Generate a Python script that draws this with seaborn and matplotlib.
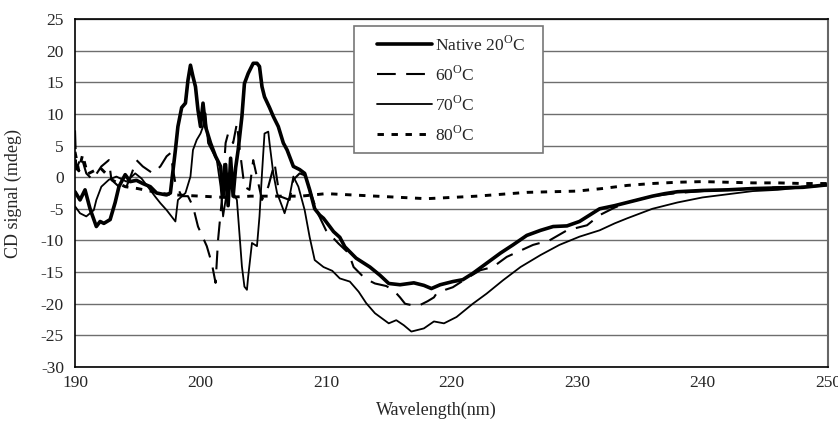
import numpy as np
import pandas as pd
import matplotlib
matplotlib.use("Agg")
import matplotlib.pyplot as plt
import matplotlib.patches as mpatches
import seaborn as sns

# Native 20 C (thick solid)
wl_native = [190, 190.4, 190.8, 191.2, 191.7, 192.0, 192.3, 192.8, 193.2, 193.5, 194.0, 194.4, 194.9,
             195.4, 196.0, 196.5, 197.0, 197.3, 197.6, 198.0, 198.2, 198.5, 198.8, 199.0, 199.2, 199.4,
             199.6, 199.8, 200.0, 200.2, 200.4, 200.8, 201.2, 201.6, 201.8, 202.0, 202.2, 202.4, 202.6,
             202.8, 203.0, 203.3, 203.5, 203.8, 204.2, 204.5, 204.7, 204.9, 205.1, 205.5, 205.8, 206.2,
             206.6, 206.9, 207.4, 207.9, 208.3, 208.7, 209.1, 209.5, 209.8, 210.3, 210.6, 211.1, 211.5,
             212.4, 213.5, 214.3, 215.0, 215.9, 217.0, 217.8, 218.4, 219.1, 220.1, 220.9, 221.7, 222.8,
             223.9, 224.9, 226.0, 227.1, 228.1, 229.2, 230.2, 231.0, 231.8, 233, 234, 235, 236, 237, 238,
             240, 242, 244, 246, 248, 250]
cd_native = [-2.3, -3.6, -2.0, -5.0, -7.8, -7.0, -7.3, -6.7, -4.0, -1.5, 0.4, -0.7, -0.5,
             -1.0, -1.5, -2.5, -2.7, -2.8, -2.5, 4.3, 8.0, 11.0, 11.7, 15.3, 17.7, 15.9,
             14.3, 10.6, 8.0, 11.7, 8.0, 5.4, 3.3, 1.7, -3.0, 2.0, -4.5, 3.0, -3.0,
             1.5, 4.3, 9.6, 14.8, 16.4, 18.0, 18.0, 17.5, 14.3, 12.7, 11.0, 9.6, 8.0,
             5.4, 4.3, 1.7, 1.2, 0.6, -2.0, -5.0, -6.0, -6.5, -7.8, -8.6, -9.5, -11.0,
             -12.8, -14.2, -15.5, -16.8, -17.0, -16.7, -17.1, -17.6, -17.0, -16.5, -16.2, -15.2, -13.6,
             -12.0, -10.7, -9.2, -8.4, -7.8, -7.7, -7.0, -6.0, -5.0, -4.5, -4.0, -3.5, -3.0, -2.6, -2.3,
             -2.1, -2.0, -1.8, -1.7, -1.6, -1.2]

# 60 C (dashed)
wl_60 = [190, 190.1, 190.5, 190.9, 191.4, 192.1, 192.7, 192.9, 193.5, 194.0, 194.5, 194.9, 195.4,
         196.2, 196.8, 197.3, 197.6, 198.0, 198.5, 199.0, 199.4, 199.8, 200.5, 200.9, 201.2, 201.4,
         201.7, 202.0, 202.2, 202.6, 202.9, 203.1, 203.5, 203.9, 204.2, 204.9, 205.4, 205.9, 206.3,
         207.1, 207.4, 207.9, 208.3, 208.7, 209.3, 210.0, 211.0, 211.8, 212.2, 213.1, 213.9, 214.8,
         215.4, 215.9, 216.3, 217.0, 217.5, 218.1, 218.6, 218.8, 219.5, 220.1, 221.2, 222.3, 223.3,
         224.4, 225.5, 226.5, 227.8, 229.2, 230.8, 231.8, 233, 234, 236, 238, 240, 242, 244, 246, 248, 250]
cd_60 = [7.4, 1.2, 3.3, 0.6, -0.4, 1.7, 2.7, -0.4, -1.5, -2.0, 0.5, 2.7, 1.7,
         0.6, 1.7, 3.3, 3.8, -1.0, -3.0, -3.0, -4.6, -7.8, -10.9, -13.6, -16.7, -9.9,
         -3.6, 5.4, 6.9, 5.4, 8.5, 4.8, -1.5, -2.0, 2.7, -3.6, -1.5, 2.2, -3.0,
         -3.6, -0.4, 0.6, 0.3, -2.0, -5.5, -8.4, -10.5, -12.0, -14.2, -16.0, -16.8, -17.2,
         -17.9, -19.0, -20.0, -20.3, -20.2, -19.6, -19.0, -18.4, -17.8, -17.4, -16.0, -14.7, -14.2,
         -12.6, -11.6, -10.7, -10.0, -8.4, -7.6, -6.0, -4.8, -4.0, -3.0, -2.5, -2.2, -2.0, -1.8, -1.6, -1.5, -1.3]

# 70 C (thin solid)
wl_70 = [190, 190.4, 190.9, 191.5, 191.7, 192.1, 192.7, 193.3, 194.1, 194.8, 195.3, 195.8, 196.4,
         196.8, 197.3, 198.0, 198.2, 198.8, 199.2, 199.4, 199.7, 200.0, 200.2, 200.4, 200.6, 201.3,
         201.6, 201.8, 202.0, 202.2, 202.5, 202.9, 203.1, 203.3, 203.5, 203.7, 203.8, 204.1, 204.5,
         204.7, 204.9, 205.1, 205.4, 205.5, 205.8, 206.1, 206.5, 206.7, 207.1, 207.4, 207.8, 208.3,
         208.7, 209.1, 209.8, 210.5, 211.1, 211.9, 212.6, 213.2, 213.9, 215.0, 215.6, 216.2, 216.8,
         217.8, 218.6, 219.4, 220.4, 221.7, 222.8, 224.1, 225.5, 227.1, 228.6, 230.2, 231.8, 233, 234,
         236, 238, 240, 242, 244, 246, 248, 250]
cd_70 = [-4.6, -5.7, -6.2, -5.2, -3.6, -1.5, -0.4, 0.1, -0.7, 0.6, -0.2, -1.5, -3.1,
         -4.1, -5.2, -7.0, -3.6, -2.5, 0.1, 4.3, 5.9, 6.9, 8.0, 10.1, 5.4, 2.7,
         -1.5, -6.2, -3.6, 0.6, -2.0, -3.6, -8.8, -14.1, -17.3, -17.8, -15.7, -10.4, -10.9,
         -6.2, 0.6, 6.9, 7.2, 5.4, 0.6, -2.5, -4.6, -5.7, -3.0, 0.1, -1.5, -5.2,
         -9.5, -13.1, -14.2, -14.8, -16.0, -16.5, -18.1, -19.9, -21.5, -23.1, -22.6, -23.4, -24.4,
         -23.9, -22.8, -23.1, -22.1, -20.0, -18.4, -16.3, -14.2, -12.3, -10.7, -9.4, -8.4, -7.3, -6.5,
         -5.0, -4.0, -3.2, -2.7, -2.2, -2.0, -1.6, -1.3]

# 80 C (dotted)
wl_80 = [190, 190.3, 190.6, 191, 191.5, 192, 192.5, 193, 193.5, 194, 195, 196, 197, 198, 200, 202,
         204, 206, 208, 210, 212, 214, 216, 218, 220, 222, 224, 226, 228, 230, 232, 234, 236, 238,
         240, 242, 244, 246, 248, 250]
cd_80 = [4.0, 1.0, 3.5, 0.5, 1.0, 1.5, 0.5, -0.5, -1.0, -1.5, -1.8, -2.2, -2.6, -2.8, -3.0, -3.2,
         -3.0, -3.0, -3.0, -2.6, -2.8, -3.0, -3.2, -3.4, -3.2, -3.0, -2.7, -2.4, -2.3, -2.2, -1.8,
         -1.3, -1.0, -0.8, -0.7, -0.8, -0.9, -0.9, -1.0, -1.0]

series_labels = ['Native 20$^{\\mathrm{O}}$C', '60$^{\\mathrm{O}}$C', '70$^{\\mathrm{O}}$C', '80$^{\\mathrm{O}}$C']
x_ticks = [190, 200, 210, 220, 230, 240, 250]
y_ticks = [-30, -25, -20, -15, -10, -5, 0, 5, 10, 15, 20, 25]

sns.set_style("white")
plt.rcParams['font.family'] = ['Liberation Serif', 'DejaVu Serif']
plt.rcParams['mathtext.fontset'] = 'custom'
plt.rcParams['mathtext.rm'] = 'Liberation Serif'
plt.rcParams['axes.unicode_minus'] = False

W, H = 838, 422
fig = plt.figure(figsize=(W / 100, H / 100), dpi=100)
ax = fig.add_axes([75 / W, 1 - 367 / H, 753 / W, 348 / H])

for yv in y_ticks:
    ax.axhline(yv, color='#6e6e6e', lw=1.0, zorder=0)

sns.lineplot(x=wl_native, y=cd_native, ax=ax, color='black', lw=2.6, sort=False,
             label=series_labels[0])
sns.lineplot(x=wl_60, y=cd_60, ax=ax, color='black', lw=1.5, sort=False,
             label=series_labels[1], linestyle=(0, (9, 5)))
sns.lineplot(x=wl_70, y=cd_70, ax=ax, color='black', lw=1.3, sort=False,
             label=series_labels[2])
sns.lineplot(x=wl_80, y=cd_80, ax=ax, color='black', lw=2.1, sort=False,
             label=series_labels[3], linestyle=(0, (2.2, 2.6)))

ax.set_xlim(190, 250)
ax.set_ylim(-30, 25)
ax.set_xticks(x_ticks)
ax.set_yticks(y_ticks)
ax.tick_params(axis='x', direction='in', length=5, width=1, labelsize=12.5, pad=6, color='#555555')
ax.tick_params(axis='y', direction='out', length=4, width=1, labelsize=12.5, pad=4, color='#555555')

for side in ['left', 'bottom', 'top']:
    ax.spines[side].set_color('black')
    ax.spines[side].set_linewidth(1.2)
ax.spines['right'].set_color('#666666')
ax.spines['right'].set_linewidth(1.5)

ax.set_xlabel('Wavelength(nm)', fontsize=13)
ax.set_ylabel('CD signal (mdeg)', fontsize=13)
ax.xaxis.set_label_coords(0.48, -0.10)
ax.yaxis.set_label_coords(-0.070, 0.5)

# legend box drawn separately so it can be wider than its content
box = mpatches.Rectangle((354 / W, 1 - 153 / H), 189 / W, 127 / H, transform=fig.transFigure,
                         facecolor='white', edgecolor='#777777', lw=1.2, zorder=4)
ax.add_patch(box)
leg = ax.legend(loc='upper left', bbox_to_anchor=(377 / W, 1 - 35 / H), bbox_transform=fig.transFigure,
                borderaxespad=0, borderpad=0, fontsize=12.5, frameon=False, handlelength=3.15,
                handletextpad=0.2, labelspacing=0.62)
leg.set_zorder(5)

fig.savefig('out.png', dpi=100)
